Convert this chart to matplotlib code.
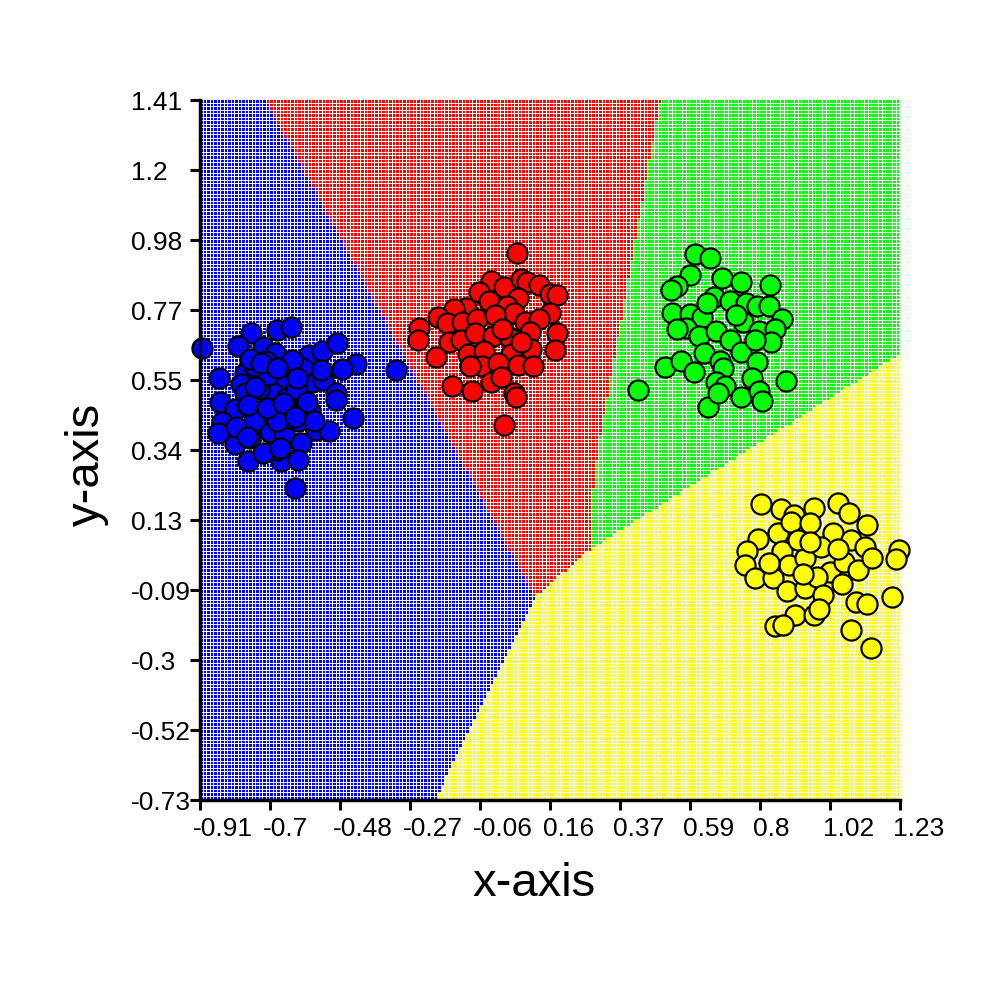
import matplotlib
matplotlib.use("Agg")
import matplotlib.pyplot as plt
import numpy as np
from matplotlib.path import Path
from matplotlib.colors import to_rgb
from matplotlib.transforms import ScaledTranslation

plt.rcParams['font.family'] = ['Liberation Sans', 'DejaVu Sans']

# ---- axes range and tick labels ----
x_min, x_max = -0.91, 1.23
y_min, y_max = -0.73, 1.41
x_tick_labels = ["-0.91", "-0.7", "-0.48", "-0.27", "-0.06", "0.16", "0.37", "0.59", "0.8", "1.02", "1.23"]
y_tick_labels = ["-0.73", "-0.52", "-0.3", "-0.09", "0.13", "0.34", "0.55", "0.77", "0.98", "1.2", "1.41"]

# ---- decision region boundaries ----
blue_red_top = (-0.709, 1.41)
red_green_top = (0.498, 1.41)
blue_yellow_bottom = (-0.190, -0.73)
junction_bry = (0.115, -0.110)
junction_rgy = (0.287, 0.037)
green_yellow_right = (1.23, 0.633)
red_green_mid = [(0.379, 0.739), (0.316, 0.388), (0.287, 0.177)]

# ---- sample points ----
blue_x = [-0.905, -0.754, -0.674, -0.632, -0.793, -0.716, -0.681, -0.576, -0.538, -0.491,
          -0.433, -0.475, -0.312, -0.852, -0.772, -0.744, -0.660, -0.625, -0.569, -0.534,
          -0.494, -0.494, -0.849, -0.803, -0.765, -0.688, -0.646, -0.590, -0.573, -0.442,
          -0.842, -0.854, -0.803, -0.758, -0.695, -0.653, -0.601, -0.555, -0.515, -0.762,
          -0.663, -0.609, -0.621, -0.674, -0.716, -0.730, -0.786, -0.611, -0.639, -0.695,
          -0.744, -0.800, -0.541, -0.597, -0.702, -0.709, -0.758, -0.660, -0.618, -0.562,
          -0.674, -0.772, -0.630, -0.722, -0.676, -0.742, -0.614, -0.762, -0.706, -0.655,
          -0.584, -0.620, -0.767, -0.665]
blue_y = [0.652, 0.697, 0.708, 0.715, 0.657, 0.655, 0.638, 0.631, 0.643, 0.666,
          0.603, 0.587, 0.584, 0.561, 0.575, 0.598, 0.559, 0.591, 0.549, 0.554,
          0.514, 0.493, 0.486, 0.465, 0.479, 0.514, 0.500, 0.486, 0.458, 0.438,
          0.427, 0.391, 0.357, 0.377, 0.395, 0.388, 0.360, 0.402, 0.399, 0.306,
          0.306, 0.309, 0.225, 0.339, 0.332, 0.528, 0.542, 0.430, 0.437, 0.458,
          0.430, 0.409, 0.584, 0.591, 0.570, 0.612, 0.619, 0.465, 0.528, 0.430,
          0.430, 0.514, 0.615, 0.605, 0.590, 0.534, 0.559, 0.478, 0.467, 0.483,
          0.488, 0.442, 0.381, 0.345]

red_x = [0.059, -0.021, -0.056, 0.018, 0.070, 0.091, 0.126, 0.161, 0.182, 0.063,
         -0.098, -0.134, -0.028, 0.028, 0.049, 0.161, -0.183, -0.155, -0.108, -0.063,
         -0.007, 0.084, 0.126, -0.239, -0.243, -0.148, -0.113, -0.070, -0.014, 0.035,
         0.098, 0.182, -0.190, -0.091, -0.042, 0.042, 0.101, 0.175, -0.049, 0.000,
         0.063, 0.109, -0.141, -0.077, -0.021, 0.010, 0.049, 0.056, 0.020, 0.014,
         0.070, -0.084]
red_y = [0.942, 0.858, 0.823, 0.837, 0.862, 0.855, 0.844, 0.816, 0.813, 0.806,
         0.774, 0.770, 0.795, 0.781, 0.760, 0.760, 0.746, 0.728, 0.732, 0.739,
         0.753, 0.732, 0.739, 0.714, 0.676, 0.671, 0.676, 0.697, 0.690, 0.686,
         0.700, 0.697, 0.624, 0.634, 0.643, 0.634, 0.650, 0.645, 0.598, 0.606,
         0.601, 0.598, 0.535, 0.520, 0.549, 0.562, 0.514, 0.503, 0.416, 0.711,
         0.669, 0.598]

green_x = [0.603, 0.650, 0.589, 0.547, 0.530, 0.685, 0.744, 0.832, 0.533, 0.589,
           0.624, 0.660, 0.709, 0.758, 0.793, 0.831, 0.870, 0.575, 0.617, 0.667,
           0.709, 0.751, 0.800, 0.849, 0.835, 0.512, 0.561, 0.599, 0.631, 0.681,
           0.688, 0.744, 0.793, 0.779, 0.881, 0.428, 0.667, 0.695, 0.744, 0.800,
           0.807, 0.643, 0.674, 0.786, 0.730, 0.639, 0.547]
green_y = [0.938, 0.927, 0.876, 0.840, 0.830, 0.865, 0.854, 0.844, 0.760, 0.756,
           0.746, 0.809, 0.795, 0.788, 0.781, 0.781, 0.739, 0.714, 0.690, 0.704,
           0.676, 0.732, 0.704, 0.711, 0.671, 0.594, 0.612, 0.579, 0.638, 0.612,
           0.591, 0.641, 0.610, 0.559, 0.552, 0.524, 0.549, 0.535, 0.503, 0.521,
           0.489, 0.472, 0.514, 0.676, 0.753, 0.788, 0.711]

yellow_x = [0.804, 0.866, 0.905, 0.968, 1.041, 1.074, 1.130, 0.796, 0.856, 0.898,
            0.954, 1.024, 1.081, 1.123, 1.228, 1.217, 0.761, 0.755, 0.786, 0.842,
            0.870, 0.891, 0.940, 0.989, 1.017, 1.060, 1.102, 1.144, 0.884, 0.940,
            0.975, 0.996, 1.053, 1.095, 1.130, 1.207, 0.909, 0.968, 0.982, 0.849,
            0.873, 1.081, 1.141, 0.919, 0.954, 1.039, 0.828, 0.933]
yellow_y = [0.175, 0.159, 0.142, 0.163, 0.177, 0.147, 0.111, 0.069, 0.086, 0.121,
            0.118, 0.086, 0.065, 0.044, 0.033, 0.006, 0.030, -0.012, -0.051, -0.050,
            0.030, -0.012, 0.009, 0.044, -0.033, -0.001, -0.026, 0.009, -0.092, -0.082,
            -0.047, -0.103, -0.071, -0.124, -0.131, -0.108, -0.164, -0.164, -0.146, -0.197,
            -0.195, -0.209, -0.265, 0.065, 0.058, 0.037, -0.005, -0.040]

col_blue, col_red, col_green, col_yellow = "#0000ff", "#ff0000", "#00ff00", "#ffff00"

# ---- background: decision-region grid, 200 x 200 cells drawn on a 700 px image ----
n_cells = 200
img_px = 700
xc = x_min + (np.arange(n_cells) + 0.5) * (x_max - x_min) / n_cells
yc = y_max - (np.arange(n_cells) + 0.5) * (y_max - y_min) / n_cells
XX, YY = np.meshgrid(xc, yc)
puntos = np.column_stack([XX.ravel(), YY.ravel()])

regiones = [
    ([blue_red_top, red_green_top] + red_green_mid + [junction_rgy, junction_bry], col_red),
    ([red_green_top, (x_max, y_max), green_yellow_right, junction_rgy] + red_green_mid[::-1], col_green),
    ([blue_yellow_bottom, junction_bry, junction_rgy, green_yellow_right, (x_max, y_min)], col_yellow),
]
celdas = np.zeros((n_cells, n_cells, 3))
celdas[:, :] = to_rgb(col_blue)
for verts, c in regiones:
    mask = Path(verts).contains_points(puntos).reshape(n_cells, n_cells)
    celdas[mask] = to_rgb(c)

# which cell each pixel belongs to, and white line on the last pixel of every cell
idx = (np.arange(img_px) * n_cells // img_px)
borde = np.append(idx[1:] != idx[:-1], True)
img = celdas[idx[:, None], idx[None, :]]
img[borde, :, :] = 1.0
img[:, borde, :] = 1.0

fig = plt.figure(figsize=(10, 10), dpi=100)
ax = fig.add_axes([0.2, 0.2, 0.7, 0.7])

ax.imshow(img, extent=(x_min, x_max, y_min, y_max), origin="upper",
          interpolation="nearest", aspect="auto", zorder=0)

for xs, ys, c in [(blue_x, blue_y, col_blue), (red_x, red_y, col_red),
                  (green_x, green_y, col_green), (yellow_x, yellow_y, col_yellow)]:
    ax.scatter(xs, ys, s=210, c=c, edgecolors="black", linewidths=1.6, zorder=3, clip_on=False)

ax.set_xlim(x_min, x_max)
ax.set_ylim(y_min, y_max)

ax.set_xticks(np.linspace(x_min, x_max, len(x_tick_labels)))
ax.set_xticklabels(x_tick_labels, fontsize=19)
ax.set_yticks(np.linspace(y_min, y_max, len(y_tick_labels)))
ax.set_yticklabels(y_tick_labels, fontsize=19)

for s in ["top", "right"]:
    ax.spines[s].set_visible(False)
for s in ["left", "bottom"]:
    ax.spines[s].set_linewidth(2.5)
    ax.spines[s].set_zorder(4)

ax.tick_params(axis="both", direction="out", length=7, width=2.2, colors="black")
ax.tick_params(axis="y", pad=43)
ax.tick_params(axis="x", pad=5)

for lab in ax.get_yticklabels():
    lab.set_ha("left")
for lab in ax.get_xticklabels():
    lab.set_ha("left")
    lab.set_transform(lab.get_transform() + ScaledTranslation(-7 / 100, 0, fig.dpi_scale_trans))

ax.set_xlabel("x-axis", fontsize=34)
ax.xaxis.set_label_coords(0.477, -0.088)
ax.set_ylabel("y-axis", fontsize=34)
ax.yaxis.set_label_coords(-0.13, 0.479)

fig.savefig("out.png", dpi=100)
plt.close(fig)
print("out.png is saved")
